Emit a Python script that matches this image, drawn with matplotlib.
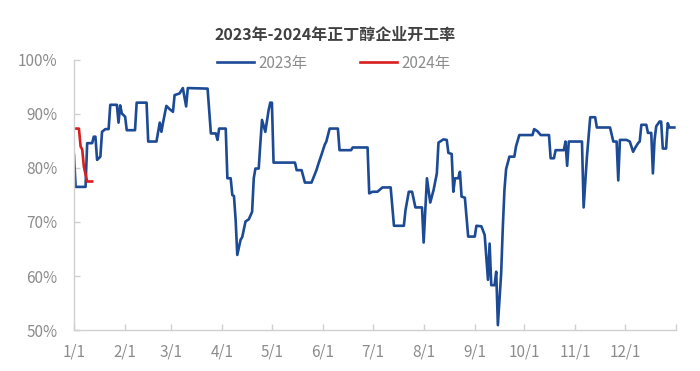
import matplotlib
matplotlib.use("Agg")
import matplotlib.pyplot as plt

plt.rcParams['font.family'] = ['Noto Sans CJK SC', 'DejaVu Sans']

# day of year (0 = 1/1) and operating rate in %
days_2023 = [0, 1, 7, 8, 11, 12, 13, 14, 16, 17, 19, 21, 22, 26, 27, 28, 29, 31, 32, 37,
             38, 44, 45, 50, 52, 53, 54, 56, 58, 60, 61, 64, 66, 68, 69, 81, 83, 86, 87, 88,
             92, 93, 95, 96, 97, 98, 99, 101, 102, 104, 106, 108, 109, 110, 112, 113, 114, 116, 118, 119,
             120, 121, 134, 135, 138, 140, 144, 147, 148, 150, 152, 153, 155, 160, 161, 168, 169, 178, 179, 181,
             184, 187, 192, 194, 200, 201, 203, 205, 207, 211, 212, 214, 216, 218, 220, 221, 224, 226, 227, 229,
             230, 231, 233, 234, 235, 237, 239, 243, 244, 247, 249, 251, 252, 253, 255, 256, 257, 259, 260, 261,
             262, 264, 267, 268, 270, 278, 279, 281, 283, 288, 289, 291, 292, 297, 298, 299, 300, 308, 309, 311,
             313, 316, 317, 325, 327, 329, 330, 331, 335, 337, 339, 340, 342, 343, 344, 347, 348, 350, 351, 352,
             353, 355, 356, 357, 359, 360, 361, 364]
rate_2023 = [82.4, 76.5, 76.5, 84.6, 84.6, 85.8, 85.8, 81.5, 82.1, 86.7, 87.2, 87.2, 91.7, 91.7, 88.4, 91.6, 90.1, 89.5, 87.0, 87.0,
             92.1, 92.1, 84.9, 84.9, 88.4, 86.7, 88.4, 91.5, 90.9, 90.4, 93.5, 93.8, 94.8, 91.4, 94.8, 94.7, 86.4, 86.4, 85.2, 87.3,
             87.3, 78.1, 78.1, 75.0, 74.8, 70.4, 63.9, 66.7, 67.2, 70.1, 70.5, 71.9, 78.1, 79.9, 79.9, 84.6, 88.9, 86.7, 90.7, 92.1,
             92.1, 81.0, 81.0, 79.6, 79.6, 77.3, 77.3, 79.6, 80.6, 82.4, 84.3, 84.9, 87.3, 87.3, 83.3, 83.3, 83.8, 83.8, 75.3, 75.6,
             75.6, 76.4, 76.4, 69.3, 69.3, 72.2, 75.6, 75.6, 72.7, 72.7, 66.2, 78.1, 73.6, 75.9, 79.0, 84.7, 85.3, 85.2, 82.8, 82.6,
             75.6, 78.1, 78.1, 79.3, 74.7, 74.5, 67.3, 67.3, 69.3, 69.2, 67.6, 59.3, 66.0, 58.3, 58.3, 60.8, 50.9, 60.5, 69.0, 76.0,
             79.8, 82.1, 82.1, 84.0, 86.1, 86.1, 87.2, 86.8, 86.1, 86.1, 81.8, 81.8, 83.3, 83.3, 84.9, 80.4, 84.9, 84.9, 72.7, 82.1,
             89.4, 89.4, 87.5, 87.5, 84.9, 84.9, 77.7, 85.2, 85.2, 84.9, 83.0, 83.6, 84.6, 84.9, 88.0, 88.0, 86.5, 86.5, 79.0, 85.2,
             87.7, 88.6, 88.6, 83.6, 83.6, 88.3, 87.5, 87.5]

days_2024 = [0, 3, 4, 5, 6, 8, 11]
rate_2024 = [87.3, 87.3, 84.0, 83.4, 80.2, 77.5, 77.5]

month_days = [0, 31, 59, 90, 120, 151, 181, 212, 243, 273, 304, 334, 365]
month_labels = ["1/1", "2/1", "3/1", "4/1", "5/1", "6/1", "7/1", "8/1", "9/1", "10/1", "11/1", "12/1", ""]
y_ticks = [50, 60, 70, 80, 90, 100]

BLUE = "#1c4a94"
RED = "#d81e1e"
GRAY = "#8c8c8c"


def main():
    fig = plt.figure(figsize=(7.0, 3.71), dpi=100)
    ax = fig.add_axes([0.1057, 0.1105, 0.86, 0.7278])

    ax.plot(days_2023, rate_2023, color=BLUE, lw=1.9, label="2023年", solid_joinstyle="round")
    ax.plot(days_2024, rate_2024, color=RED, lw=1.9, label="2024年", solid_joinstyle="round")

    ax.set_xlim(0, 365)
    ax.set_ylim(50, 100)
    ax.set_xticks(month_days)
    ax.set_xticklabels(month_labels)
    ax.set_yticks(y_ticks)
    ax.set_yticklabels([f"{v}%" for v in y_ticks])

    for s in ["top", "right"]:
        ax.spines[s].set_visible(False)
    for s in ["left", "bottom"]:
        ax.spines[s].set_color("#d0d0d0")
        ax.spines[s].set_linewidth(1.0)
    ax.tick_params(axis="both", direction="in", length=4, width=1.0, color="#d0d0d0",
                   labelcolor=GRAY, labelsize=11)
    ax.tick_params(axis="x", pad=10)
    ax.tick_params(axis="y", pad=12)

    fig.text(0.479, 0.906, "2023年-2024年正丁醇企业开工率", ha="center", va="center",
             fontsize=11.5, fontweight="bold", color="#404040")
    leg = fig.legend(loc="center", bbox_to_anchor=(0.477, 0.83), ncol=2, frameon=False,
                     fontsize=11, handlelength=2.4, columnspacing=3.4, handletextpad=0.35)
    for t in leg.get_texts():
        t.set_color(GRAY)

    fig.savefig("out.png", dpi=100)


if __name__ == "__main__":
    main()
